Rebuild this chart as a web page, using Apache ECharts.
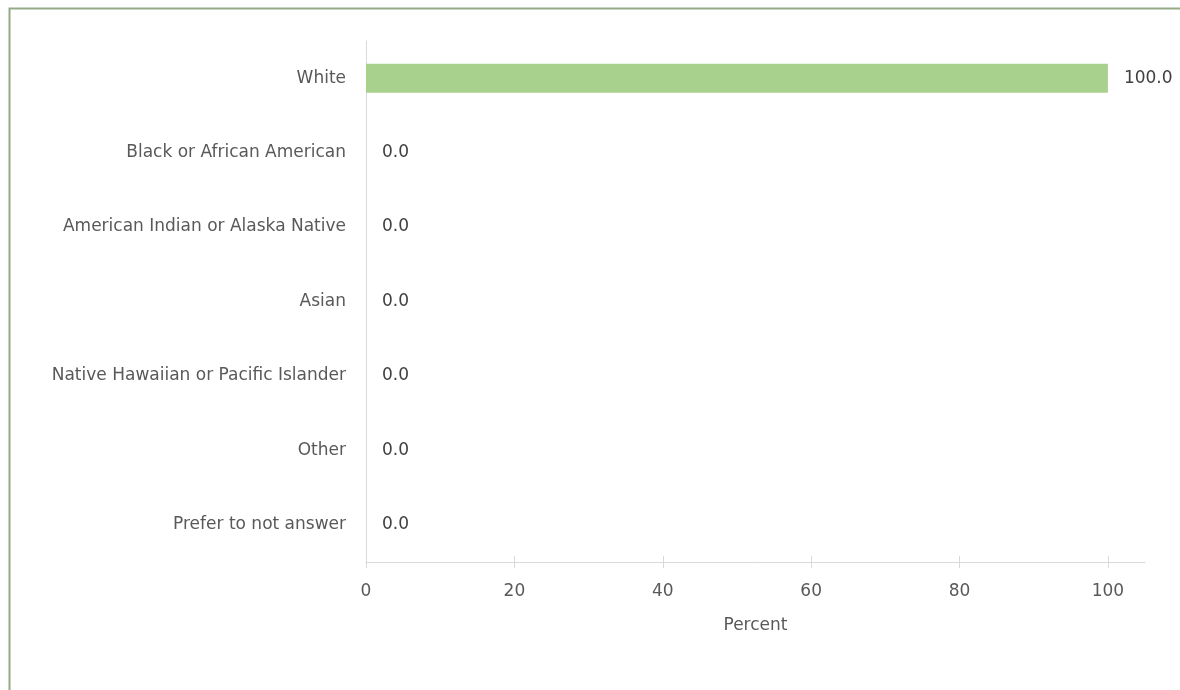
<!DOCTYPE html>
<html>
<head>
<meta charset="utf-8">
<script src="https://cdn.jsdelivr.net/npm/echarts@6/dist/echarts.min.js"></script>
<style>
html,body{margin:0;padding:0;background:#fff;}
#chart{width:1180px;height:690px;}
</style>
</head>
<body>
<div id="chart"></div>
<script>
const categories = ['White','Black or African American','American Indian or Alaska Native','Asian','Native Hawaiian or Pacific Islander','Other','Prefer to not answer'];
const values = [100.0, 0.0, 0.0, 0.0, 0.0, 0.0, 0.0];
const xTicks = [0, 20, 40, 60, 80, 100];
const axisName = 'Percent';

const font = '"DejaVu Sans", "Open Sans", sans-serif';
const fs = 17;
const chart = echarts.init(document.getElementById('chart'));
chart.setOption({
  animation: false,
  backgroundColor: '#ffffff',
  graphic: [{
    type: 'rect', left: 7, top: 6, shape: {width: 1200, height: 720},
    style: {fill: 'none', stroke: '#93aa85', lineWidth: 2}, silent: true
  }],
  grid: {left: 366, right: 35, top: 41, bottom: 128},
  xAxis: [{
    type: 'value', min: 0, max: 105,
    name: axisName, nameLocation: 'middle', nameGap: 55,
    nameTextStyle: {fontFamily: font, fontSize: fs, color: '#595959'},
    splitLine: {show: false},
    axisLine: {show: true, lineStyle: {color: '#d9d9d9', width: 1}},
    axisTick: {show: true, length: 6, customValues: xTicks, lineStyle: {color: '#d9d9d9'}},
    axisLabel: {customValues: xTicks, margin: 21, fontFamily: font, fontSize: fs, color: '#595959'}
  }, {
    type: 'value', min: 0, max: 105, position: 'bottom',
    splitLine: {show: false},
    axisLine: {show: false},
    axisTick: {show: true, inside: true, length: 6, customValues: xTicks, lineStyle: {color: '#d9d9d9'}},
    axisLabel: {show: false}
  }],
  yAxis: {
    type: 'category', data: categories, inverse: true,
    axisLine: {show: true, lineStyle: {color: '#d9d9d9'}},
    axisTick: {show: false},
    axisLabel: {margin: 20, fontFamily: font, fontSize: fs, color: '#595959'}
  },
  series: [{
    type: 'bar', data: values, barWidth: 29,
    itemStyle: {color: '#a9d18e'},
    label: {show: true, position: 'right', distance: 16,
      formatter: p => p.value.toFixed(1),
      fontFamily: font, fontSize: fs, color: '#404040'}
  }]
});
</script>
</body>
</html>
